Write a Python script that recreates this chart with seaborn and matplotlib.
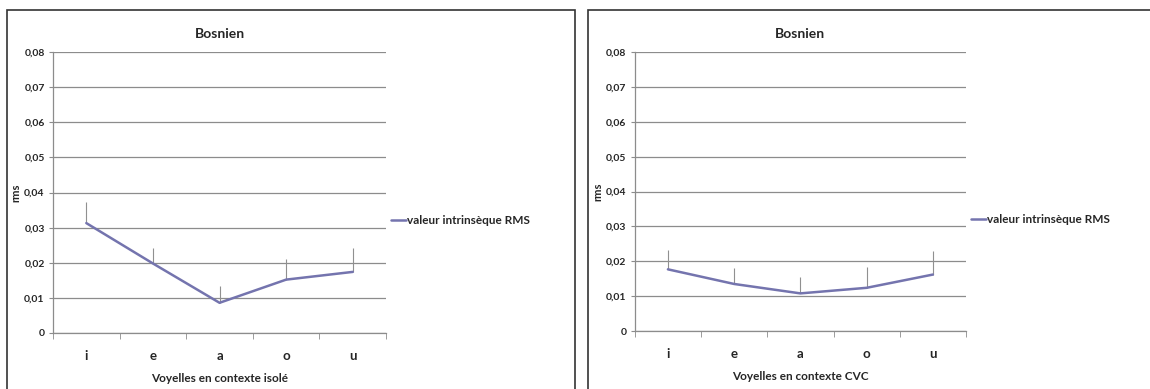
import matplotlib
matplotlib.use("Agg")
import matplotlib.pyplot as plt
import matplotlib.patches as mpatches
import pandas as pd
import seaborn as sns

voyelles = ['i', 'e', 'a', 'o', 'u']

# valeurs
rms_isole = [0.0313, 0.0198, 0.0086, 0.0152, 0.0174]
err_isole = [0.0060, 0.0043, 0.0048, 0.0059, 0.0068]
rms_cvc = [0.0177, 0.0135, 0.0108, 0.0124, 0.0162]
err_cvc = [0.0056, 0.0047, 0.0048, 0.0061, 0.0068]

yticks = [0, 0.01, 0.02, 0.03, 0.04, 0.05, 0.06, 0.07, 0.08]
ytick_labels = ['0', '0,01', '0,02', '0,03', '0,04', '0,05', '0,06', '0,07', '0,08']

sns.set_style('white')
plt.rcParams['font.family'] = ['Lato', 'DejaVu Sans']

ligne = '#7474AE'
grille = '#8c8c8c'


def tracer(ax, valeurs, erreurs, xlabel):
    df = pd.DataFrame({'voyelle': voyelles, 'rms': valeurs, 'pos': range(len(voyelles))})
    ax.vlines(df['pos'], df['rms'], [v + e for v, e in zip(valeurs, erreurs)],
              color='#909090', lw=0.8, zorder=2)
    sns.lineplot(data=df, x='pos', y='rms', ax=ax, color=ligne, lw=1.8,
                 label='valeur intrinsèque RMS', zorder=3)
    ax.set_xlim(-0.5, len(voyelles) - 0.5)
    ax.set_ylim(0, 0.08)
    ax.set_yticks(yticks)
    ax.set_yticklabels(ytick_labels, fontsize=7.5, fontweight='bold')
    ax.yaxis.grid(True, color=grille, lw=0.9)
    ax.set_axisbelow(True)
    ax.set_xticks(range(len(voyelles)))
    ax.set_xticklabels(voyelles, fontsize=9.5, fontweight='bold')
    ax.set_xticks([p - 0.5 for p in range(len(voyelles) + 1)], minor=True)
    ax.tick_params(axis='x', which='major', length=0, pad=12)
    ax.tick_params(axis='x', which='minor', length=4, color=grille, direction='out', bottom=True)
    ax.tick_params(axis='y', length=3, color=grille, direction='out', left=True, pad=3)
    for s in ['top', 'right']:
        ax.spines[s].set_visible(False)
    for s in ['left', 'bottom']:
        ax.spines[s].set_color(grille)
        ax.spines[s].set_linewidth(0.9)
    ax.set_title('Bosnien', fontsize=10, fontweight='bold', pad=10)
    ax.set_xlabel(xlabel, fontsize=8.5, fontweight='bold', labelpad=8)
    ax.set_ylabel('rms', fontsize=8, fontweight='bold', labelpad=2)
    ax.legend(loc='center left', bbox_to_anchor=(1.0, 0.40), frameon=False,
              handlelength=1.3, handletextpad=0.1, borderaxespad=0,
              prop={'size': 8.5, 'weight': 'bold'})


fig = plt.figure(figsize=(11.5, 3.89), dpi=100)
ax1 = fig.add_axes([0.0461, 0.144, 0.2896, 0.722])
ax2 = fig.add_axes([0.552, 0.149, 0.288, 0.717])

tracer(ax1, rms_isole, err_isole, 'Voyelles en contexte isolé')
tracer(ax2, rms_cvc, err_cvc, 'Voyelles en contexte CVC')

# cadres autour des deux graphiques
fig.patches.append(mpatches.Rectangle((7 / 1150, -0.02), 568 / 1150, 1 - 10 / 389 + 0.02,
                                      transform=fig.transFigure, fill=False,
                                      edgecolor='#333333', lw=1.2))
fig.patches.append(mpatches.Rectangle((588 / 1150, -0.02), 0.5, 1 - 10 / 389 + 0.02,
                                      transform=fig.transFigure, fill=False,
                                      edgecolor='#333333', lw=1.2))

fig.savefig('out.png', dpi=100)
